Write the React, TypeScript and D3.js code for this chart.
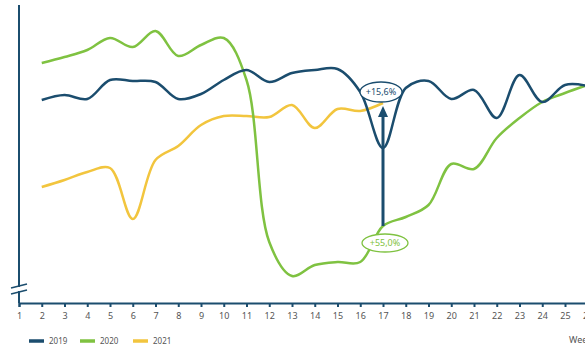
import React, { useEffect, useRef } from "react";
import * as d3 from "d3";

const weeks = d3.range(1, 27);
const dataWeeks = d3.range(2, 27);
const weeks2021 = d3.range(2, 18);
const values2019 = [203, 208, 204, 223, 222, 221, 204, 209, 223, 233, 221, 230, 233, 234, 211, 155, 215, 222, 204, 213, 185, 228, 201, 218, 217];
const values2020 = [240, 246, 253, 265, 256, 272, 247, 258, 265, 223, 61, 27, 38, 41, 41, 77, 86, 98, 139, 134, 165, 185, 201, 210, 218];
const values2021 = [116, 123, 131, 135, 84, 143, 157, 178, 187, 187, 186, 198, 175, 194, 192, 200];
const seriesNames = ["2019", "2020", "2021"];
const colors = ["#1b4d6e", "#7fc241", "#f2c53e"];
const annotationWeek = 17;
const labelUp = "+15,6%";
const labelDown = "+55,0%";
const axisTitle = "Week";

const W = 585;
const H = 351;

export default function App() {
  const axisRef = useRef<SVGGElement>(null);
  const x = d3.scaleLinear().domain([1, 26]).range([19, 587.75]);
  const y = d3.scaleLinear().domain([0, 300]).range([303, 3]);

  useEffect(() => {
    if (!axisRef.current) return;
    const g = d3.select(axisRef.current);
    g.selectAll("*").remove();
    g.call(
      d3.axisBottom(x).tickValues(weeks).tickSize(4).tickPadding(6).tickFormat(d3.format("d"))
    );
    g.select(".domain").attr("stroke", colors[0]).attr("stroke-width", 2);
    g.selectAll(".tick line").attr("stroke", colors[0]).attr("stroke-width", 2);
    g.selectAll(".tick text")
      .attr("fill", "#555")
      .attr("font-size", 9)
      .attr("font-family", "Noto Sans, sans-serif");
  }, []);

  const line = d3
    .line<[number, number]>()
    .x((d) => x(d[0]))
    .y((d) => y(d[1]))
    .curve(d3.curveCatmullRom.alpha(0.5));

  const s2019 = dataWeeks.map((w, i) => [w, values2019[i]] as [number, number]);
  const s2020 = dataWeeks.map((w, i) => [w, values2020[i]] as [number, number]);
  const s2021 = weeks2021.map((w, i) => [w, values2021[i]] as [number, number]);

  const ax = x(annotationWeek);
  const yBottom = y(values2020[dataWeeks.indexOf(annotationWeek)]);
  const yTop = y(values2021[weeks2021.indexOf(annotationWeek)]);

  const legendX = [29, 80, 133];

  return (
    <svg
      width={W}
      height={H}
      style={{ position: "absolute", left: 0, top: 0, background: "#fff" }}
    >
      {/* y axis */}
      <line x1={19} x2={19} y1={5} y2={303} stroke={colors[0]} strokeWidth={2} />
      <rect x={15} y={287} width={8} height={4} fill="#fff" />
      <line x1={11} y1={288} x2={27} y2={284} stroke={colors[0]} strokeWidth={1.5} />
      <line x1={11} y1={294} x2={27} y2={290} stroke={colors[0]} strokeWidth={1.5} />

      <g ref={axisRef} transform={`translate(0,${y(0)})`} />

      <path d={line(s2021) || ""} fill="none" stroke={colors[2]} strokeWidth={2.5} />
      <path d={line(s2020) || ""} fill="none" stroke={colors[1]} strokeWidth={2.5} />
      <path d={line(s2019) || ""} fill="none" stroke={colors[0]} strokeWidth={2.5} />

      {/* arrow */}
      <line x1={ax} x2={ax} y1={yBottom} y2={yTop + 12} stroke={colors[0]} strokeWidth={3} />
      <path
        d={`M${ax - 5},${yTop + 14} L${ax},${yTop + 3} L${ax + 5},${yTop + 14} Z`}
        fill={colors[0]}
      />
      <ellipse cx={ax - 2} cy={yTop - 11} rx={21} ry={10} fill="#fff" stroke={colors[0]} strokeWidth={1.3} />
      <text
        x={ax - 2}
        y={yTop - 8}
        textAnchor="middle"
        fontSize={9}
        fontFamily="Noto Sans, sans-serif"
        fill={colors[0]}
      >
        {labelUp}
      </text>
      <ellipse cx={ax + 2} cy={yBottom + 17} rx={23} ry={9} fill="#fff" stroke={colors[1]} strokeWidth={1.3} />
      <text
        x={ax + 2}
        y={yBottom + 20}
        textAnchor="middle"
        fontSize={9}
        fontFamily="Noto Sans, sans-serif"
        fill={colors[1]}
      >
        {labelDown}
      </text>

      <text x={569} y={343} fontSize={9} fontFamily="Noto Sans, sans-serif" fill="#555">
        {axisTitle}
      </text>

      {seriesNames.map((n, i) => (
        <g key={n}>
          <line x1={legendX[i]} x2={legendX[i] + 15} y1={341} y2={341} stroke={colors[i]} strokeWidth={3.5} />
          <text x={legendX[i] + 20} y={344} fontSize={8} fontFamily="Noto Sans, sans-serif" fill="#555">
            {n}
          </text>
        </g>
      ))}
    </svg>
  );
}
